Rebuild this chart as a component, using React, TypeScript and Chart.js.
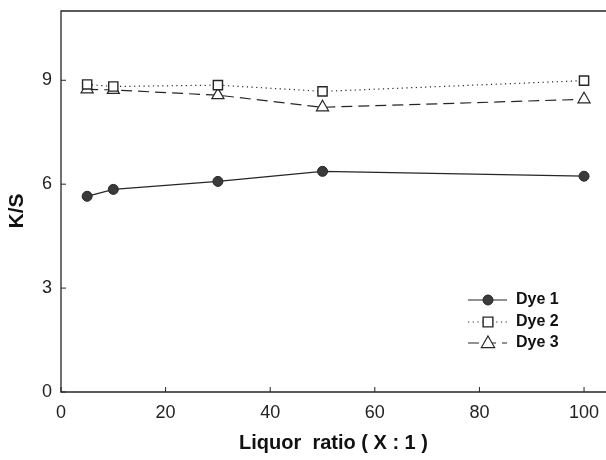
import React, { useEffect, useRef } from "react";
import { Chart, registerables } from "chart.js";

Chart.register(...registerables);

const liquorRatio = [5, 10, 30, 50, 100];
const dye1 = [5.65, 5.85, 6.08, 6.37, 6.23];
const dye2 = [8.88, 8.82, 8.86, 8.68, 8.99];
const dye3 = [8.74, 8.72, 8.57, 8.22, 8.45];
const xTicks = [0, 20, 40, 60, 80, 100];
const yTicks = [0, 3, 6, 9];
const seriesNames = ["Dye 1", "Dye 2", "Dye 3"];
const xTitle = "Liquor  ratio ( X : 1 )";
const yTitle = "K/S";

const INK = "#262626";
const FONT = "'Liberation Sans', Arial, sans-serif";

const framePlugin = {
  id: "frameAndTicks",
  afterDatasetsDraw(chart: any) {
    const { ctx, chartArea } = chart;
    const { left, right, top, bottom } = chartArea;
    const xs = chart.scales.x;
    const ys = chart.scales.y;
    ctx.save();
    ctx.strokeStyle = INK;
    ctx.lineWidth = 1.3;
    ctx.setLineDash([]);
    ctx.beginPath();
    ctx.moveTo(right, top);
    ctx.lineTo(left, top);
    ctx.lineTo(left, bottom);
    ctx.lineTo(right, bottom);
    ctx.stroke();
    ctx.lineWidth = 1;
    ctx.beginPath();
    xTicks.forEach((v) => {
      const px = xs.getPixelForValue(v);
      ctx.moveTo(px, bottom);
      ctx.lineTo(px, bottom - 5);
    });
    yTicks.forEach((v) => {
      const py = ys.getPixelForValue(v);
      ctx.moveTo(left, py);
      ctx.lineTo(left + 5, py);
    });
    ctx.stroke();

    // y title
    ctx.save();
    ctx.translate(17, 211);
    ctx.rotate(-Math.PI / 2);
    ctx.fillStyle = "#111";
    ctx.font = "bold 21px " + FONT;
    ctx.textAlign = "center";
    ctx.textBaseline = "middle";
    ctx.fillText(yTitle, 0, 0);
    ctx.restore();

    // legend
    const rows = [300, 322, 343];
    chart.data.datasets.forEach((ds: any, i: number) => {
      const y = rows[i];
      ctx.save();
      ctx.strokeStyle = ds.borderColor;
      ctx.lineWidth = ds.borderWidth;
      ctx.setLineDash(ds.borderDash || []);
      ctx.beginPath();
      ctx.moveTo(468, y);
      ctx.lineTo(507, y);
      ctx.stroke();
      ctx.setLineDash([]);
      ctx.fillStyle = ds.pointBackgroundColor;
      ctx.strokeStyle = ds.pointBorderColor;
      ctx.lineWidth = ds.pointBorderWidth;
      const cx = 488;
      const r = ds.pointRadius;
      ctx.beginPath();
      if (ds.pointStyle === "circle") {
        ctx.arc(cx, y, r, 0, Math.PI * 2);
      } else if (ds.pointStyle === "rect") {
        const s = r * 0.75;
        ctx.rect(cx - s, y - s, s * 2, s * 2);
      } else {
        ctx.moveTo(cx, y - r * 1.0);
        ctx.lineTo(cx + r * 0.95, y + r * 0.65);
        ctx.lineTo(cx - r * 0.95, y + r * 0.65);
        ctx.closePath();
      }
      ctx.fill();
      ctx.stroke();
      ctx.fillStyle = "#111";
      ctx.font = "bold 16px " + FONT;
      ctx.textBaseline = "middle";
      ctx.textAlign = "left";
      ctx.fillText(ds.label, 516, y);
      ctx.restore();
    });
    ctx.restore();
  },
};

const zeroPad = (s: any) => {
  s.paddingTop = 0;
  s.paddingBottom = 0;
  s.paddingLeft = 0;
  s.paddingRight = 0;
};

export default function App() {
  const ref = useRef<HTMLCanvasElement | null>(null);
  useEffect(() => {
    if (!ref.current) return;
    const mk = (vals: number[]) => liquorRatio.map((x, i) => ({ x, y: vals[i] }));
    const chart = new Chart(ref.current, {
      type: "line",
      data: {
        datasets: [
          {
            label: seriesNames[0],
            data: mk(dye1),
            borderColor: INK,
            borderWidth: 1.2,
            pointStyle: "circle",
            pointRadius: 5,
            pointBackgroundColor: "#3a3a3a",
            pointBorderColor: INK,
            pointBorderWidth: 1,
          },
          {
            label: seriesNames[1],
            data: mk(dye2),
            borderColor: INK,
            borderWidth: 1.2,
            borderDash: [1.2, 3.5],
            pointStyle: "rect",
            pointRadius: 6.5,
            pointBackgroundColor: "#fff",
            pointBorderColor: INK,
            pointBorderWidth: 1.4,
          },
          {
            label: seriesNames[2],
            data: mk(dye3),
            borderColor: INK,
            borderWidth: 1.2,
            borderDash: [11, 6],
            pointStyle: "triangle",
            pointRadius: 7,
            pointBackgroundColor: "#fff",
            pointBorderColor: INK,
            pointBorderWidth: 1.2,
          },
        ] as any,
      },
      options: {
        animation: false,
        responsive: false,
        layout: { autoPadding: false, padding: { top: 11, left: 0, right: 0, bottom: 0 } },
        plugins: { legend: { display: false }, tooltip: { enabled: false } },
        scales: {
          x: {
            type: "linear",
            min: 0,
            max: 104.2,
            afterBuildTicks: (s: any) => {
              s.ticks = xTicks.map((v) => ({ value: v }));
            },
            afterFit: (s: any) => {
              s.height = 68;
              zeroPad(s);
            },
            grid: { display: false, drawTicks: false },
            border: { display: false },
            ticks: {
              padding: 10,
              color: "#222",
              font: { family: FONT, size: 18 },
              maxRotation: 0,
            },
            title: {
              display: true,
              text: xTitle,
              color: "#111",
              font: { family: FONT, size: 20, weight: "bold" },
              padding: { top: 0, bottom: 5 },
            },
          },
          y: {
            type: "linear",
            min: 0,
            max: 11,
            afterBuildTicks: (s: any) => {
              s.ticks = yTicks.map((v) => ({ value: v }));
            },
            afterFit: (s: any) => {
              s.width = 61;
              zeroPad(s);
            },
            grid: { display: false, drawTicks: false },
            border: { display: false },
            ticks: {
              padding: 9,
              color: "#222",
              font: { family: FONT, size: 18 },
            },
            title: { display: false },
          },
        },
      },
      plugins: [framePlugin],
    });
    return () => chart.destroy();
  }, []);
  return (
    <div style={{ position: "absolute", left: 0, top: 0, width: 606, height: 460, background: "#fff" }}>
      <canvas ref={ref} width={606} height={460} style={{ width: 606, height: 460 }} />
    </div>
  );
}
